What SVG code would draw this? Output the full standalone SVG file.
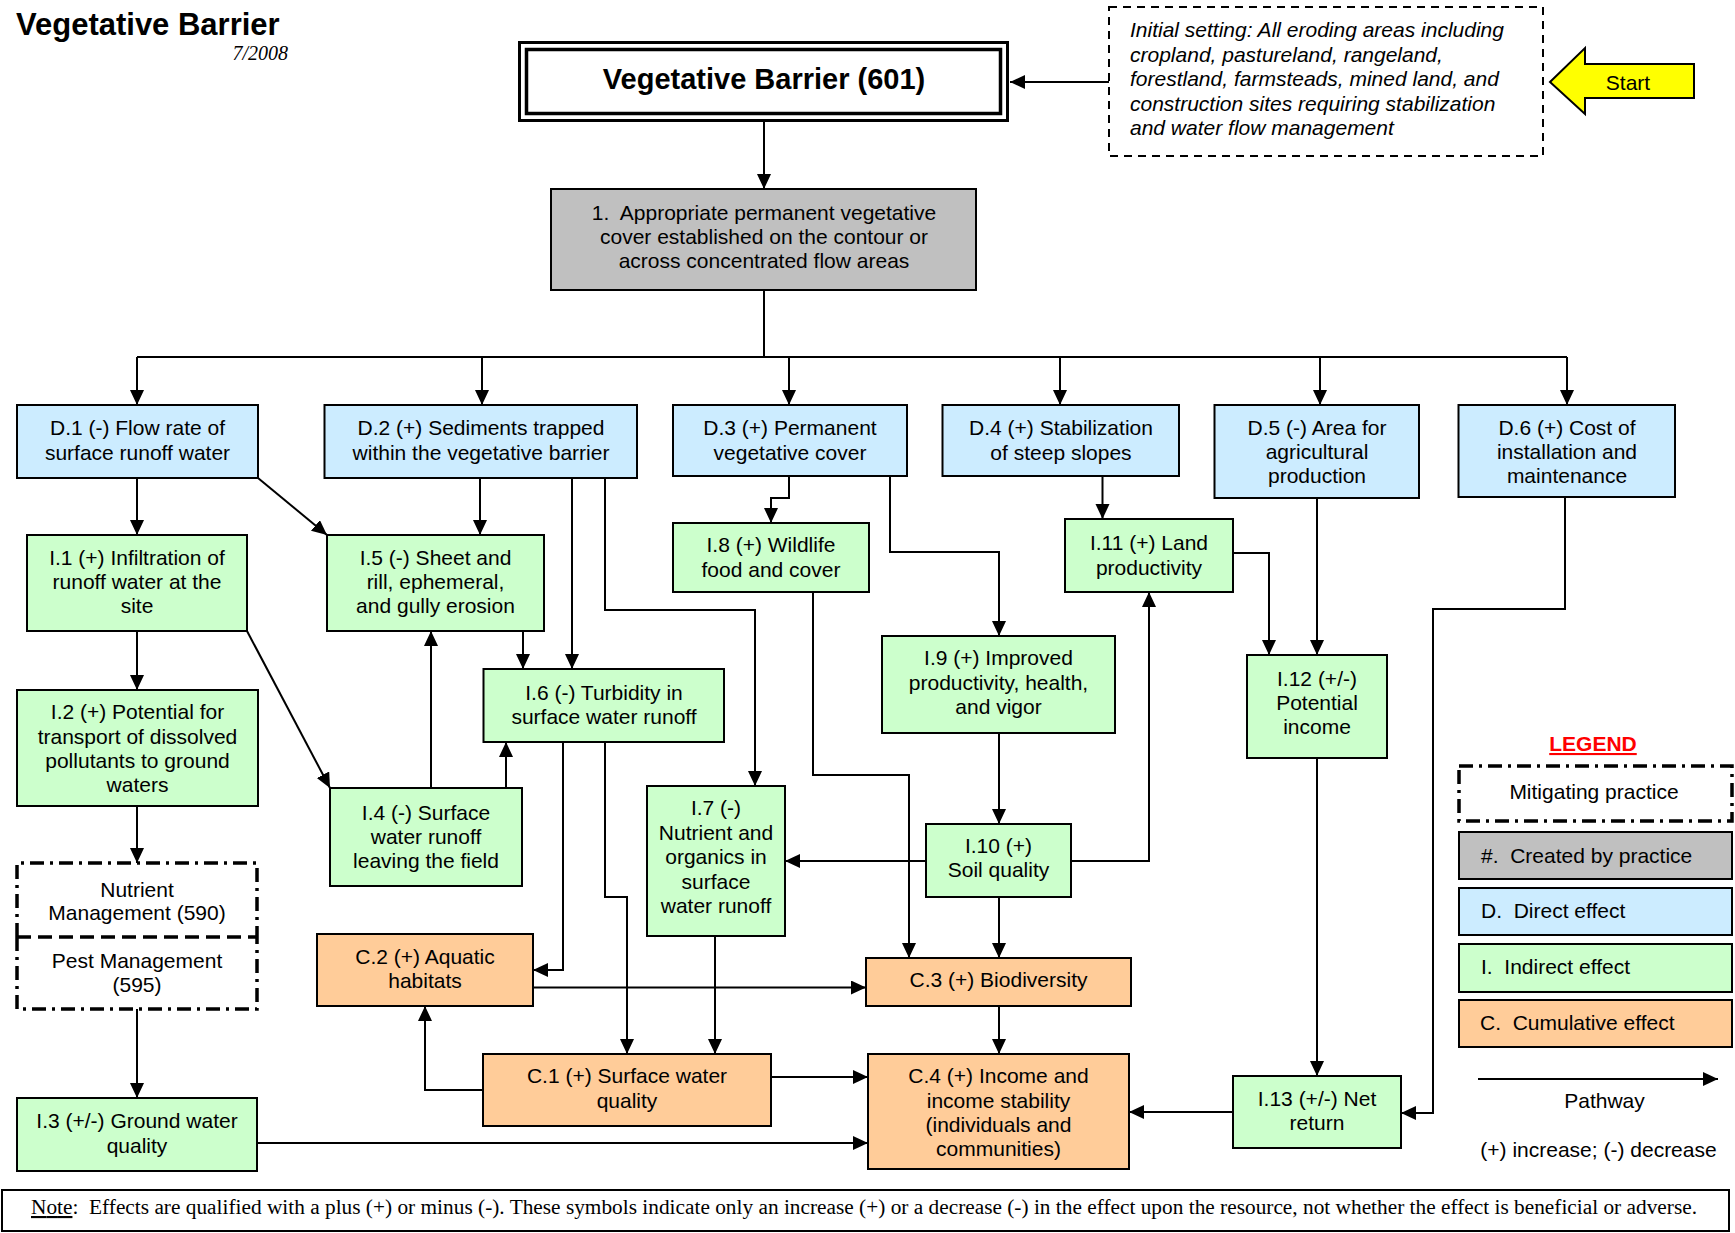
<svg xmlns="http://www.w3.org/2000/svg" width="1735" height="1233" viewBox="0 0 1735 1233">
<style>
text{font-family:"Liberation Sans",Arial,sans-serif;font-size:21px;fill:#000}
.m{text-anchor:middle}
.p{white-space:pre}
.b{stroke:#000;stroke-width:2}
.d{fill:#CCECFF}.i{fill:#CCFFCC}.c{fill:#FFCC99}.g{fill:#C0C0C0}
.cn{fill:none;stroke:#000;stroke-width:2;marker-end:url(#ah)}
.ln{fill:none;stroke:#000;stroke-width:2}
.dd{fill:none;stroke:#000;stroke-width:3.5;stroke-dasharray:14 6 3 6}
</style>
<defs>
<marker id="ah" markerUnits="userSpaceOnUse" markerWidth="16" markerHeight="16" refX="15" refY="7" orient="auto"><path d="M0,0 L15,7 L0,14 z" fill="#000"/></marker>
</defs>
<rect width="1735" height="1233" fill="#fff"/>
<text x="16" y="35" style="font-size:31px;font-weight:bold">Vegetative Barrier</text>
<text x="288" y="60" style="font-family:'Liberation Serif',serif;font-style:italic;font-size:20px;text-anchor:end">7/2008</text>

<g id="connectors">
<path class="cn" d="M1109,82 H1010"/>
<path class="cn" d="M764,122 V189"/>
<path class="ln" d="M764,290 V357 M137,357 H1567"/>
<path class="cn" d="M137,357 V405"/>
<path class="cn" d="M482,357 V405"/>
<path class="cn" d="M789,357 V405"/>
<path class="cn" d="M1060,357 V405"/>
<path class="cn" d="M1320,357 V405"/>
<path class="cn" d="M1567,357 V405"/>
<path class="cn" d="M137,478 V535"/>
<path class="cn" d="M258,478 L327,535"/>
<path class="cn" d="M480,478 V535"/>
<path class="cn" d="M572,478 V669"/>
<path class="cn" d="M605,478 V610 H755 V786"/>
<path class="cn" d="M523,631 V669"/>
<path class="cn" d="M137,631 V690"/>
<path class="cn" d="M247,631 L330,788"/>
<path class="cn" d="M431,788 V631"/>
<path class="cn" d="M506,788 V742"/>
<path class="cn" d="M563,742 V970 H533"/>
<path class="cn" d="M605,742 V897 H627 V1054"/>
<path class="cn" d="M137,806 V863"/>
<path class="cn" d="M137,1009 V1098"/>
<path class="cn" d="M257,1143 H868"/>
<path class="cn" d="M483,1090 H425 V1006"/>
<path class="cn" d="M533,987.5 H866"/>
<path class="cn" d="M771,1077 H868"/>
<path class="cn" d="M715,936 V1054"/>
<path class="cn" d="M789,476 V498 H771 V523"/>
<path class="cn" d="M890,476 V552 H999 V636"/>
<path class="cn" d="M813,592 V775 H909 V958"/>
<path class="cn" d="M999,733 V824"/>
<path class="cn" d="M926,861 H785"/>
<path class="cn" d="M1071,861 H1149 V592"/>
<path class="cn" d="M999,897 V958"/>
<path class="cn" d="M999,1006 V1054"/>
<path class="cn" d="M1102.5,476 V519"/>
<path class="cn" d="M1233,553 H1269 V655"/>
<path class="cn" d="M1317,498 V655"/>
<path class="cn" d="M1317,758 V1076"/>
<path class="cn" d="M1565,497 V609 H1433 V1113 H1401"/>
<path class="cn" d="M1233,1112 H1129"/>
</g>

<g id="practice">
<rect x="519.5" y="42.5" width="488" height="78" fill="#fff" stroke="#000" stroke-width="3"/>
<rect x="526.5" y="49.5" width="474" height="64" fill="none" stroke="#000" stroke-width="3.5"/>
<text x="764" y="89" class="m" style="font-size:29px;font-weight:bold">Vegetative Barrier (601)</text>
</g>

<g id="setting">
<rect x="1109" y="7" width="434" height="149" fill="#fff" stroke="#000" stroke-width="2" stroke-dasharray="8 6"/>
<g style="font-style:italic">
<text x="1130" y="37">Initial setting: All eroding areas including</text>
<text x="1130" y="62">cropland, pastureland, rangeland,</text>
<text x="1130" y="86">forestland, farmsteads, mined land, and</text>
<text x="1130" y="111">construction sites requiring stabilization</text>
<text x="1130" y="135">and water flow management</text>
</g>
</g>

<g id="start">
<path d="M1550,82 L1585,48 V64 H1694 V98 H1585 V114 Z" fill="#FFFF00" stroke="#000" stroke-width="2"/>
<text x="1628" y="90" class="m">Start</text>
</g>

<g id="n1"><rect class="b g" x="551" y="189" width="425" height="101"/>
<text x="764" y="220" class="m p">1.  Appropriate permanent vegetative</text>
<text x="764" y="244" class="m">cover established on the contour or</text>
<text x="764" y="268" class="m">across concentrated flow areas</text></g>

<g id="d1"><rect class="b d" x="17" y="405" width="241" height="73"/>
<text x="137.5" y="435" class="m">D.1 (-) Flow rate of</text>
<text x="137.5" y="460" class="m">surface runoff water</text></g>
<g id="d2"><rect class="b d" x="324.5" y="405" width="312.5" height="73"/>
<text x="481" y="435" class="m">D.2 (+) Sediments trapped</text>
<text x="481" y="460" class="m">within the vegetative barrier</text></g>
<g id="d3"><rect class="b d" x="673" y="405" width="234" height="71"/>
<text x="790" y="435" class="m">D.3 (+) Permanent</text>
<text x="790" y="460" class="m">vegetative cover</text></g>
<g id="d4"><rect class="b d" x="942.5" y="405" width="236.5" height="71"/>
<text x="1061" y="435" class="m">D.4 (+) Stabilization</text>
<text x="1061" y="460" class="m">of steep slopes</text></g>
<g id="d5"><rect class="b d" x="1214.5" y="405" width="204.5" height="93"/>
<text x="1317" y="435" class="m">D.5 (-) Area for</text>
<text x="1317" y="459" class="m">agricultural</text>
<text x="1317" y="483" class="m">production</text></g>
<g id="d6"><rect class="b d" x="1458.5" y="405" width="216.5" height="92"/>
<text x="1567" y="435" class="m">D.6 (+) Cost of</text>
<text x="1567" y="459" class="m">installation and</text>
<text x="1567" y="483" class="m">maintenance</text></g>

<g id="i1"><rect class="b i" x="27" y="535" width="220" height="96"/>
<text x="137" y="565" class="m">I.1 (+) Infiltration of</text>
<text x="137" y="589" class="m">runoff water at the</text>
<text x="137" y="613" class="m">site</text></g>
<g id="i5"><rect class="b i" x="327" y="535" width="217" height="96"/>
<text x="435.5" y="565" class="m">I.5 (-) Sheet and</text>
<text x="435.5" y="589" class="m">rill, ephemeral,</text>
<text x="435.5" y="613" class="m">and gully erosion</text></g>
<g id="i2"><rect class="b i" x="17" y="690" width="241" height="116"/>
<text x="137.5" y="719" class="m">I.2 (+) Potential for</text>
<text x="137.5" y="743.5" class="m">transport of dissolved</text>
<text x="137.5" y="768" class="m">pollutants to ground</text>
<text x="137.5" y="792" class="m">waters</text></g>
<g id="i6"><rect class="b i" x="483.5" y="669" width="240.5" height="73"/>
<text x="604" y="700" class="m">I.6 (-) Turbidity in</text>
<text x="604" y="724" class="m">surface water runoff</text></g>
<g id="i4"><rect class="b i" x="330" y="788" width="192" height="98"/>
<text x="426" y="820" class="m">I.4 (-) Surface</text>
<text x="426" y="844" class="m">water runoff</text>
<text x="426" y="868" class="m">leaving the field</text></g>
<g id="i8"><rect class="b i" x="673" y="523" width="196" height="69"/>
<text x="771" y="552" class="m">I.8 (+) Wildlife</text>
<text x="771" y="577" class="m">food and cover</text></g>
<g id="i9"><rect class="b i" x="882" y="636" width="233" height="97"/>
<text x="998.5" y="665" class="m">I.9 (+) Improved</text>
<text x="998.5" y="690" class="m">productivity, health,</text>
<text x="998.5" y="714" class="m">and vigor</text></g>
<g id="i11"><rect class="b i" x="1065" y="519" width="168" height="73"/>
<text x="1149" y="550" class="m">I.11 (+) Land</text>
<text x="1149" y="575" class="m">productivity</text></g>
<g id="i12"><rect class="b i" x="1247" y="655" width="140" height="103"/>
<text x="1317" y="686" class="m">I.12 (+/-)</text>
<text x="1317" y="710" class="m">Potential</text>
<text x="1317" y="734" class="m">income</text></g>
<g id="i10"><rect class="b i" x="926" y="824" width="145" height="73"/>
<text x="998.5" y="853" class="m">I.10 (+)</text>
<text x="998.5" y="877" class="m">Soil quality</text></g>
<g id="i7"><rect class="b i" x="647" y="786" width="138" height="150"/>
<text x="716" y="815" class="m">I.7 (-)</text>
<text x="716" y="839.5" class="m">Nutrient and</text>
<text x="716" y="864" class="m">organics in</text>
<text x="716" y="888.5" class="m">surface</text>
<text x="716" y="913" class="m">water runoff</text></g>
<g id="i13"><rect class="b i" x="1233" y="1076" width="168" height="72"/>
<text x="1317" y="1106" class="m">I.13 (+/-) Net</text>
<text x="1317" y="1130" class="m">return</text></g>
<g id="i3"><rect class="b i" x="17" y="1098" width="240" height="73"/>
<text x="137" y="1128" class="m">I.3 (+/-) Ground water</text>
<text x="137" y="1153" class="m">quality</text></g>

<g id="nutrient">
<rect x="17" y="863" width="240" height="146" fill="#fff"/>
<path class="dd" d="M17,937 V863 H257 V937"/>
<text x="137" y="897" class="m">Nutrient</text>
<text x="137" y="920" class="m">Management (590)</text></g>
<g id="pest">
<path fill="none" stroke="#000" stroke-width="3.5" stroke-dasharray="14 7" d="M17,937 H257"/>
<path class="dd" d="M17,937 V1009 H257 V937"/>
<text x="137" y="968" class="m">Pest Management</text>
<text x="137" y="992" class="m">(595)</text></g>

<g id="c2"><rect class="b c" x="317" y="934" width="216" height="72"/>
<text x="425" y="964" class="m">C.2 (+) Aquatic</text>
<text x="425" y="988" class="m">habitats</text></g>
<g id="c3"><rect class="b c" x="866" y="958" width="265" height="48"/>
<text x="998.5" y="987" class="m">C.3 (+) Biodiversity</text></g>
<g id="c1"><rect class="b c" x="483" y="1054" width="288" height="72"/>
<text x="627" y="1083" class="m">C.1 (+) Surface water</text>
<text x="627" y="1108" class="m">quality</text></g>
<g id="c4"><rect class="b c" x="868" y="1054" width="261" height="115"/>
<text x="998.5" y="1083" class="m">C.4 (+) Income and</text>
<text x="998.5" y="1107.5" class="m">income stability</text>
<text x="998.5" y="1132" class="m">(individuals and</text>
<text x="998.5" y="1156" class="m">communities)</text></g>

<g id="legend">
<text x="1593" y="751" class="m" style="font-weight:bold;fill:#FF0000;text-decoration:underline">LEGEND</text>
<rect x="1459" y="766" width="273" height="55" fill="#fff"/>
<rect class="dd" x="1459" y="766" width="273" height="55"/>
<text x="1594" y="799" class="m">Mitigating practice</text>
<rect class="b g" x="1459" y="832" width="273" height="47"/>
<text x="1481" y="863" class="p">#.  Created by practice</text>
<rect class="b d" x="1459" y="888" width="273" height="47"/>
<text x="1481" y="918" class="p">D.  Direct effect</text>
<rect class="b i" x="1459" y="944" width="273" height="48"/>
<text x="1481" y="974" class="p">I.  Indirect effect</text>
<rect class="b c" x="1459" y="1000" width="273" height="47"/>
<text x="1480" y="1030" class="p">C.  Cumulative effect</text>
<path class="cn" d="M1478,1079 H1718"/>
<text x="1604.5" y="1108" class="m">Pathway</text>
<text x="1598.5" y="1157" class="m">(+) increase; (-) decrease</text>
</g>

<g id="note">
<rect x="2" y="1190" width="1727" height="41" fill="#fff" stroke="#000" stroke-width="2"/>
<text x="31" y="1214" textLength="1666" lengthAdjust="spacing" style="font-family:'Liberation Serif',serif;font-size:21.3px;white-space:pre"><tspan style="text-decoration:underline">Note</tspan>:  Effects are qualified with a plus (+) or minus (-). These symbols indicate only an increase (+) or a decrease (-) in the effect upon the resource, not whether the effect is beneficial or adverse.</text>
</g>
</svg>
